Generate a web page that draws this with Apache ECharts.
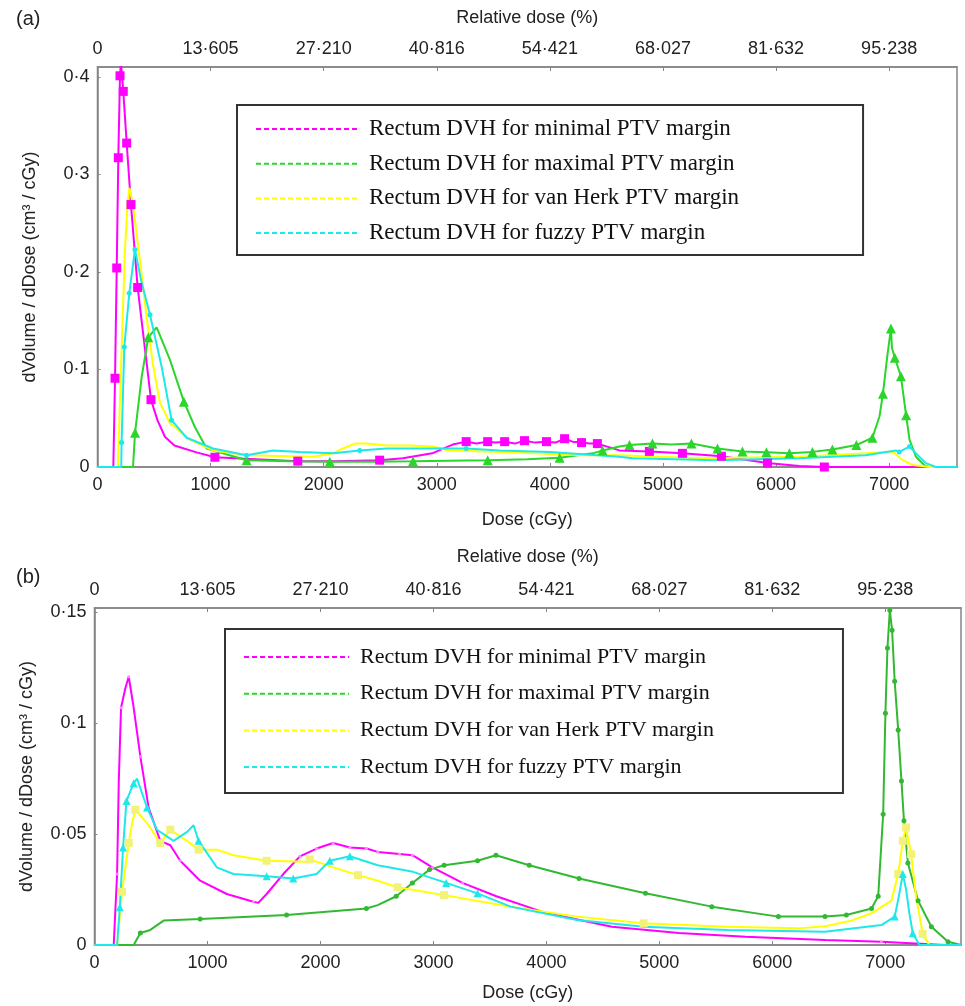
<!DOCTYPE html>
<html>
<head>
<meta charset="utf-8">
<title>Rectum DVH</title>
<script src="https://cdn.jsdelivr.net/npm/echarts@6/dist/echarts.min.js"></script>
<style>
  html, body { margin: 0; padding: 0; background: #fff; }
  #main { width: 965px; height: 1006px; }
</style>
</head>
<body>
<div id="main"></div>
<script>
// legend / series names
var names = ['Rectum DVH for minimal PTV margin', 'Rectum DVH for maximal PTV margin',
             'Rectum DVH for van Herk PTV margin', 'Rectum DVH for fuzzy PTV margin'];
// top axis tick labels (relative dose, %) at 0,1000..7000 cGy
var relTicks = ['0', '13·605', '27·210', '40·816', '54·421', '68·027', '81·632', '95·238'];

// ---- panel (a): [dose cGy, dV/dD] ----
var minimalA = [[0,0],[140,0],[155,0.091],[170,0.204],[184,0.317],[199,0.401],[207,0.415],[228,0.385],[258,0.332],[296,0.269],[355,0.184],[473,0.069],[530,0.048],[596,0.031],[680,0.022],[876,0.015],[1038,0.010],[1400,0.008],[1771,0.006],[2100,0.006],[2495,0.007],[2700,0.009],[2960,0.014],[3140,0.023],[3260,0.026],[3350,0.024],[3450,0.026],[3520,0.025],[3600,0.026],[3690,0.024],[3776,0.027],[3870,0.025],[3970,0.026],[4050,0.025],[4130,0.029],[4200,0.026],[4280,0.025],[4350,0.024],[4420,0.024],[4615,0.017],[4880,0.016],[5172,0.014],[5517,0.011],[5924,0.004],[6205,0.001],[6427,0],[7600,0]];
var maximalA = [[0,0],[314,0],[332,0.035],[390,0.092],[449,0.133],[523,0.143],[640,0.110],[764,0.067],[861,0.041],[965,0.019],[1318,0.007],[1700,0.006],[2054,0.0055],[2400,0.0055],[2790,0.006],[3100,0.0065],[3450,0.007],[3800,0.008],[4086,0.0095],[4380,0.014],[4466,0.017],[4615,0.021],[4704,0.0225],[4907,0.024],[5075,0.023],[5252,0.024],[5482,0.019],[5703,0.016],[5915,0.015],[6118,0.014],[6322,0.0155],[6498,0.018],[6710,0.0225],[6852,0.030],[6915,0.052],[6945,0.075],[6985,0.115],[7016,0.142],[7025,0.122],[7050,0.112],[7104,0.093],[7120,0.079],[7150,0.053],[7180,0.028],[7237,0.0105],[7310,0.002],[7350,0],[7600,0]];
var vanHerkA = [[0,0],[180,0],[213,0.12],[243,0.223],[265,0.27],[283,0.286],[316,0.267],[375,0.212],[434,0.154],[493,0.103],[552,0.066],[640,0.045],[817,0.028],[1022,0.017],[1318,0.012],[1906,0.0105],[2084,0.014],[2170,0.019],[2275,0.024],[2380,0.024],[2557,0.022],[2760,0.022],[2960,0.021],[3113,0.017],[3440,0.016],[3848,0.014],[4290,0.012],[4615,0.012],[5322,0.009],[6205,0.0105],[6793,0.014],[7028,0.016],[7120,0.007],[7209,0.002],[7357,0],[7600,0]];
var fuzzyA = [[0,0],[210,0],[213,0.025],[237,0.123],[281,0.178],[331,0.223],[390,0.189],[464,0.156],[567,0.103],[655,0.048],[788,0.030],[1022,0.019],[1318,0.012],[1553,0.017],[1789,0.0155],[2084,0.014],[2319,0.017],[2557,0.019],[2960,0.019],[3260,0.019],[3555,0.017],[3997,0.0155],[4615,0.0105],[4730,0.009],[5473,0.007],[6205,0.009],[6793,0.012],[7060,0.017],[7089,0.0155],[7180,0.021],[7237,0.014],[7325,0.004],[7413,0],[7600,0]];
// doses where markers are shown
var minimalAMarks = [155,170,184,199,228,258,296,355,473,1038,1771,2495,3260,3450,3600,3776,3970,4130,4280,4420,4880,5172,5517,5924,6427];
var maximalAMarks = [332,449,764,1318,2054,2790,3450,4086,4466,4704,4907,5252,5482,5703,5915,6118,6322,6498,6710,6852,6945,7016,7050,7104,7150];
var fuzzyAMarks = [213,237,281,331,464,655,1318,2319,3260,7089,7180];

// ---- panel (b) ----
var minimalB = [[0,0],[170,0],[200,0.032],[215,0.074],[235,0.107],[274,0.116],[303,0.121],[347,0.107],[406,0.085],[479,0.062],[582,0.047],[671,0.045],[759,0.038],[935,0.029],[1171,0.023],[1406,0.0195],[1450,0.019],[1524,0.023],[1671,0.032],[1818,0.040],[1966,0.0435],[2112,0.046],[2260,0.044],[2407,0.0435],[2507,0.042],[2700,0.041],[2814,0.0405],[2991,0.035],[3257,0.028],[3557,0.022],[3998,0.0144],[4580,0.0082],[5173,0.0054],[5763,0.0037],[6468,0.0022],[6965,0.0015],[7526,0],[7670,0]];
var maximalB = [[0,0],[347,0],[406,0.0054],[494,0.0068],[612,0.011],[935,0.0117],[1700,0.0135],[2407,0.0165],[2507,0.018],[2671,0.022],[2814,0.028],[2966,0.034],[3095,0.036],[3390,0.038],[3554,0.0405],[3848,0.036],[4289,0.030],[4877,0.0233],[5464,0.0173],[6054,0.0128],[6466,0.0128],[6655,0.0135],[6878,0.0165],[6937,0.022],[6981,0.059],[7001,0.1045],[7019,0.134],[7040,0.151],[7060,0.142],[7083,0.119],[7114,0.097],[7143,0.074],[7165,0.056],[7200,0.037],[7290,0.020],[7408,0.0082],[7555,0.0015],[7670,0]];
var vanHerkB = [[0,0],[200,0],[244,0.024],[303,0.046],[333,0.055],[362,0.061],[465,0.055],[582,0.046],[671,0.052],[818,0.047],[921,0.043],[1083,0.043],[1230,0.0405],[1524,0.038],[1877,0.0375],[1906,0.0386],[2112,0.035],[2333,0.0315],[2507,0.029],[2683,0.026],[3095,0.0225],[3683,0.0173],[4272,0.0128],[4860,0.0098],[5600,0.0082],[6230,0.0075],[6466,0.0085],[6700,0.011],[6878,0.0143],[7054,0.020],[7114,0.032],[7155,0.047],[7184,0.053],[7228,0.041],[7272,0.022],[7331,0.005],[7390,0],[7670,0]];
var fuzzyB = [[0,0],[200,0],[224,0.017],[253,0.044],[283,0.065],[347,0.073],[377,0.075],[465,0.062],[553,0.052],[700,0.047],[820,0.051],[877,0.054],[921,0.047],[1083,0.035],[1230,0.032],[1524,0.031],[1759,0.030],[1966,0.032],[2083,0.038],[2260,0.040],[2507,0.036],[2820,0.033],[3113,0.028],[3390,0.0233],[3683,0.0173],[4272,0.0113],[4860,0.0082],[5600,0.0068],[6466,0.006],[6966,0.009],[7083,0.0128],[7120,0.022],[7155,0.032],[7184,0.025],[7213,0.0143],[7243,0.0053],[7302,0],[7670,0]];
var minimalBMarks = [200,235,303,406,759,1406,1818,1966,2112,2260,2407,2507,2700,2814,2991,3257,6965];
var maximalBMarks = [406,935,1700,2407,2671,2814,2966,3095,3390,3554,3848,4289,4877,5464,6054,6466,6655,6878,6937,6981,7001,7019,7040,7060,7083,7114,7143,7165,7200,7290,7408,7555];
var vanHerkBMarks = [244,303,362,582,671,921,1524,1906,2333,2683,3095,4860,7114,7155,7184,7228,7331];
var fuzzyBMarks = [224,253,283,347,465,921,1524,1759,2083,2260,3113,3390,7083,7155,7243];

var FONT = 'Liberation Sans';
var AXIS_COLOR = '#858585';

function markAt(list, shape) {
    return function (v) { return list.indexOf(v[0]) >= 0 ? shape : 'none'; };
}

function line(name, data, g, color, marks, shape, size, markColor) {
    return {
        name: name, type: 'line', xAxisIndex: g * 2, yAxisIndex: g,
        data: data, color: color,
        symbol: marks ? markAt(marks, shape) : 'none',
        symbolSize: size || 6,
        lineStyle: { color: color, width: 2 },
        itemStyle: { color: markColor || color },
        emphasis: { disabled: true }
    };
}

function dot(v) {
    return v === 0 ? '0' : String(+v.toFixed(3)).replace('.', '·');
}

function xAxes(g, max, nameGapBottom, nameGapTop) {
    var common = {
        gridIndex: g, type: 'value', min: 0, max: max, interval: 1000,
        nameLocation: 'middle',
        nameTextStyle: { fontFamily: FONT, fontSize: 18, color: '#222' },
        axisLine: { show: true, lineStyle: { color: AXIS_COLOR, width: 1.5 } },
        axisTick: { show: true, inside: true, length: 4, lineStyle: { color: AXIS_COLOR } },
        splitLine: { show: false }
    };
    return [
        Object.assign({}, common, {
            position: 'bottom', name: 'Dose (cGy)', nameGap: nameGapBottom,
            axisLabel: {
                fontFamily: FONT, fontSize: 18, color: '#222', margin: 9, showMaxLabel: false,
                formatter: function (v) { return String(v); }
            }
        }),
        Object.assign({}, common, {
            position: 'top', name: 'Relative dose (%)', nameGap: nameGapTop,
            axisLabel: {
                fontFamily: FONT, fontSize: 18, color: '#222', margin: 9, showMaxLabel: false,
                formatter: function (v) { return v % 1000 === 0 ? (relTicks[v / 1000] || '') : ''; }
            }
        })
    ];
}

function yAxis(g, max, interval) {
    return {
        gridIndex: g, type: 'value', min: 0, max: max, interval: interval,
        name: 'dVolume / dDose (cm³ / cGy)', nameLocation: 'middle', nameGap: 58,
        nameTextStyle: { fontFamily: FONT, fontSize: 18, color: '#222' },
        axisLine: { show: true, lineStyle: { color: AXIS_COLOR, width: 1.5 } },
        axisTick: { show: true, inside: true, length: 3, lineStyle: { color: AXIS_COLOR } },
        axisLabel: { fontFamily: FONT, fontSize: 18, color: '#222', margin: 8, showMaxLabel: false, formatter: dot },
        splitLine: { show: false }
    };
}

function legend(left, top, padding, gap, size, lineW) {
    return {
        data: names, orient: 'vertical', left: left, top: top,
        padding: padding, itemGap: gap, itemWidth: lineW, itemHeight: 24,
        borderColor: '#333', borderWidth: 2, selectedMode: false,
        itemStyle: { opacity: 0 },
        lineStyle: { type: [5, 3], width: 2 },
        textStyle: { fontFamily: 'Liberation Serif', fontSize: size, color: '#111', lineHeight: 24, padding: [0, 0, 0, 6] }
    };
}

var chart = echarts.init(document.getElementById('main'));
chart.setOption({
    animation: false,
    backgroundColor: '#fff',
    title: [
        { text: '(a)', left: 11, top: 4, textStyle: { fontFamily: FONT, fontSize: 20, fontWeight: 'normal', color: '#222' } },
        { text: '(b)', left: 11, top: 562, textStyle: { fontFamily: FONT, fontSize: 20, fontWeight: 'normal', color: '#222' } }
    ],
    grid: [
        { left: 97.5, top: 67, width: 859.5, height: 400, show: true, borderColor: AXIS_COLOR, borderWidth: 1.5 },
        { left: 94.5, top: 608, width: 866.5, height: 337, show: true, borderColor: AXIS_COLOR, borderWidth: 1.5 }
    ],
    legend: [
        legend(237, 105, [12, 124, 10, 18], 10.7, 23, 102),
        legend(225, 629, [16, 129, 14, 18], 12.7, 22, 105)
    ],
    xAxis: xAxes(0, 7600, 44, 40).concat(xAxes(1, 7670, 39, 42)),
    yAxis: [yAxis(0, 0.41, 0.1), yAxis(1, 0.152, 0.05)],
    series: [
        line(names[0], minimalA, 0, '#ff00ff', minimalAMarks, 'rect', 9),
        line(names[1], maximalA, 0, '#2bd62b', maximalAMarks, 'triangle', 10),
        line(names[2], vanHerkA, 0, '#ffff00'),
        line(names[3], fuzzyA, 0, '#1ee8e8', fuzzyAMarks, 'circle', 5),
        line(names[0], minimalB, 1, '#ff00ff', minimalBMarks, 'circle', 3, '#ff88ff'),
        line(names[1], maximalB, 1, '#33b833', maximalBMarks, 'circle', 5),
        line(names[2], vanHerkB, 1, '#ffff00', vanHerkBMarks, 'rect', 8, '#f2f27a'),
        line(names[3], fuzzyB, 1, '#1ee8e8', fuzzyBMarks, 'triangle', 8)
    ]
});
</script>
</body>
</html>
